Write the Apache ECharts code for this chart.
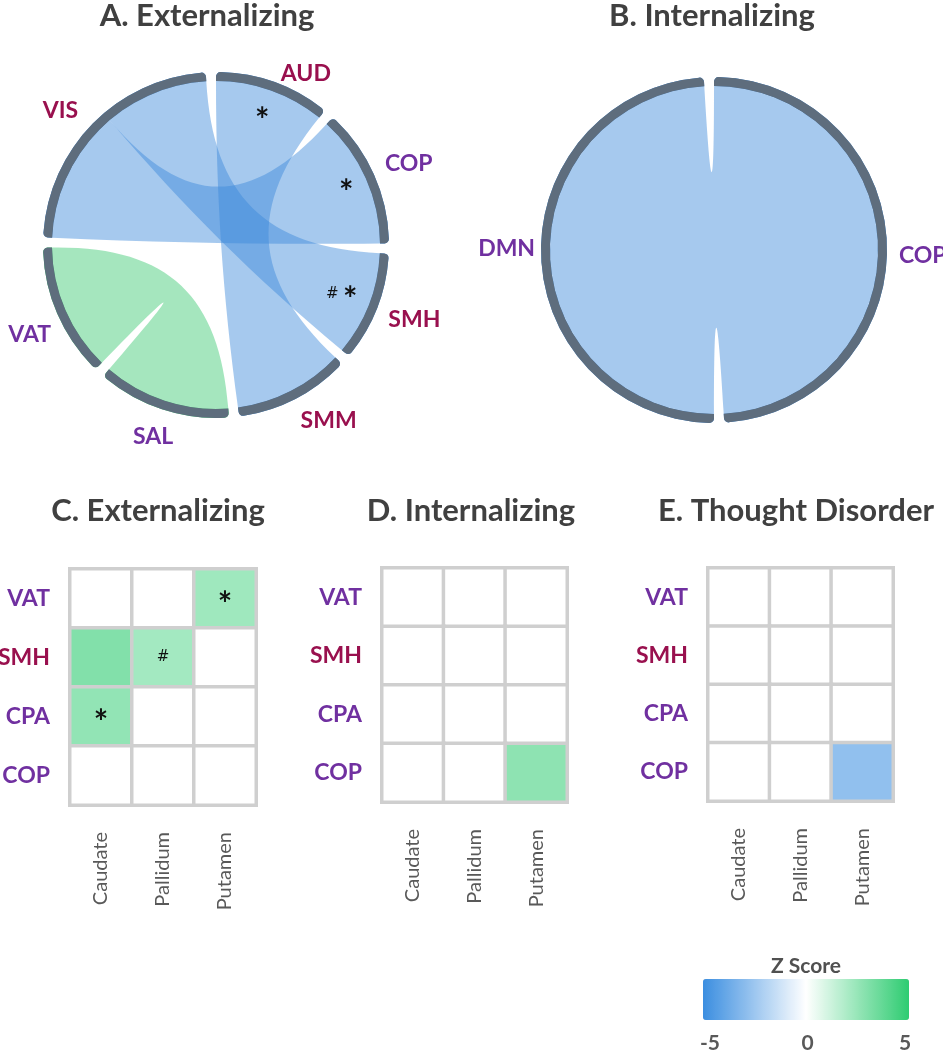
<!DOCTYPE html>
<html>
<head>
<meta charset="utf-8">
<script src="https://cdn.jsdelivr.net/npm/echarts@6/dist/echarts.min.js"></script>
<style>
  html, body { margin: 0; padding: 0; background: #fff; }
  #chart { width: 943px; height: 1050px; }
</style>
</head>
<body>
<div id="chart"></div>
<script>
// chord A: externalizing (nodes clockwise from the top)
const extNodes = ['AUD', 'COP', 'SMH', 'SMM', 'SAL', 'VAT', 'VIS'];
const extLinks = [['VIS', 'COP', 47], ['VIS', 'SMH', 37], ['AUD', 'SMM', 39], ['VAT', 'SAL', 45]];
const extPositive = ['VAT', 'SAL'];   // nodes whose links are positive (green)
// chord B: internalizing
const intNodes = ['COP', 'DMN'];
const intLinks = [['COP', 'DMN', 50]];
const intPositive = [];

// heatmaps: rows = networks, cols = striatum
const networks = ['VAT', 'SMH', 'CPA', 'COP'];
const striatum = ['Caudate', 'Pallidum', 'Putamen'];
const zExt = [[0, 0, 2.3], [3.0, 2.2, 0], [2.6, 0, 0], [0, 0, 0]];
const markExt = [['', '', '*'], ['', '#', ''], ['*', '', ''], ['', '', '']];
const zInt = [[0, 0, 0], [0, 0, 0], [0, 0, 0], [0, 0, 2.7]];
const zTd = [[0, 0, 0], [0, 0, 0], [0, 0, 0], [0, 0, -2.8]];
const noMarks = [['', '', ''], ['', '', ''], ['', '', ''], ['', '', '']];
const zTicks = [-5, 0, 5];

const purple = '#7030A0', crimson = '#99104E';
const netColor = {
  VAT: purple, SAL: purple, COP: purple, CPA: purple, DMN: purple,
  SMH: crimson, SMM: crimson, AUD: crimson, VIS: crimson
};
// label nudges as padding [top, right, bottom, left]
const labelPad = {
  A: { AUD: [0, 0, -14, 3], VIS: [0, 6, -7, 0], COP: [0, 0, -6, 0], SMH: [-4, 0, 0, 0],
       SAL: [4, -15, 0, 0], VAT: [5, -5, 0, 0] },
  B: { COP: [0, 0, -23, 0], DMN: [-18, -6, 0, 0] }
};
const font = 'Lato';
const negColor = 'rgb(57,135,217)', posColor = 'rgb(55,200,111)';

function chordBase(center) {
  return {
    type: 'chord', center: center, radius: [164, 173],
    startAngle: 90, clockwise: true, padAngle: 3.4, minAngle: 0,
    emphasis: { disabled: true }, silent: true
  };
}
// ribbons: coloured from their source node
function chordRibbons(nodes, links, positive, center) {
  return Object.assign(chordBase(center), {
    lineStyle: { color: 'source', opacity: 0.45 },
    label: { show: false },
    data: nodes.map(n => ({ name: n, itemStyle: { color: positive.includes(n) ? posColor : negColor } })),
    links: links.map(l => ({ source: l[0], target: l[1], value: l[2] }))
  });
}
// node ring and names on top
function chordRing(nodes, links, center, pads) {
  return Object.assign(chordBase(center), {
    itemStyle: { color: '#5E6D7D', borderWidth: 0 },
    lineStyle: { color: 'source', opacity: 0 },
    label: {
      show: true, position: 'outside', distance: 12,
      fontFamily: font, fontWeight: 'bold', fontSize: 23
    },
    data: nodes.map(n => ({ name: n, label: { color: netColor[n], padding: pads[n] || 0 } })),
    links: links.map(l => ({ source: l[0], target: l[1], value: l[2] }))
  });
}

function heat(z, marks, gi) {
  const data = [];
  z.forEach((row, r) => row.forEach((v, c) => data.push([c, r, v, marks[r][c]])));
  return {
    type: 'heatmap', xAxisIndex: gi, yAxisIndex: gi, data: data,
    itemStyle: { borderColor: '#CFCFCF', borderWidth: 3.5 },
    emphasis: { disabled: true },
    label: {
      show: true,
      formatter: p => p.data[3] === '*' ? '{s|*}' : (p.data[3] === '#' ? '{h|#}' : ''),
      rich: {
        s: { fontFamily: font, fontWeight: 'bold', fontSize: 34, color: '#111', padding: [14, 0, 0, 0] },
        h: { fontFamily: 'DejaVu Sans', fontSize: 15, color: '#111' }
      }
    }
  };
}

const grids = [
  { left: 70, top: 569, width: 186, height: 236 },
  { left: 382, top: 568, width: 185, height: 234 },
  { left: 708, top: 568, width: 185, height: 233 },
  { left: 710, top: 1024, width: 195, height: 1 }
].map(g => Object.assign(g, { outerBoundsMode: 'none', containLabel: false }));

const xAxes = [0, 1, 2].map(i => ({
  type: 'category', gridIndex: i, data: striatum,
  axisLine: { show: false }, axisTick: { show: false },
  axisLabel: { rotate: 90, margin: 27, fontFamily: font, fontSize: 20, color: '#595959' }
}));
xAxes.push({
  type: 'value', gridIndex: 3, min: -5, max: 5, interval: 5,
  axisLine: { show: false }, axisTick: { show: false }, splitLine: { show: false },
  axisLabel: { margin: 8, fontFamily: font, fontSize: 21, color: '#595959', fontWeight: 'bold',
    formatter: v => zTicks.includes(v) ? String(v) : '' }
});
const yAxes = [0, 1, 2].map(i => ({
  type: 'category', gridIndex: i, data: networks, inverse: true,
  axisLine: { show: false }, axisTick: { show: false },
  axisLabel: { margin: 20, fontFamily: font, fontWeight: 'bold', fontSize: 23,
    color: v => netColor[v] }
}));
yAxes.push({ type: 'value', gridIndex: 3, show: false });

const titleStyle = { fontFamily: font, fontWeight: 'bold', fontSize: 31, color: '#404040' };
const titles = [
  ['A. Externalizing', 207, 0], ['B. Internalizing', 712, 0],
  ['C. Externalizing', 158, 495], ['D. Internalizing', 471, 495], ['E. Thought Disorder', 796, 495]
].map(t => ({ text: t[0], left: t[1], top: t[2], textAlign: 'center', padding: 0, textStyle: titleStyle }));
titles.push({ text: 'Z Score', left: 806, top: 956, textAlign: 'center', padding: 0,
  textStyle: { fontFamily: font, fontWeight: 'bold', fontSize: 21, color: '#505050' } });

const mark = (x, y, t, s, f) => ({ type: 'text', left: x, top: y, z: 10,
  style: { text: t, fontFamily: f || font, fontWeight: f ? 'normal' : 'bold', fontSize: s, fill: '#111' } });

const chart = echarts.init(document.getElementById('chart'));
chart.setOption({
  animation: false,
  backgroundColor: '#fff',
  title: titles,
  grid: grids,
  xAxis: xAxes,
  yAxis: yAxes,
  visualMap: {
    type: 'continuous', min: -5, max: 5, dimension: 2, seriesIndex: [0, 1, 2],
    orient: 'horizontal', left: 703, top: 979, itemWidth: 41, itemHeight: 206,
    padding: 0, calculable: false, hoverLink: false,
    inRange: { color: ['#3B8EE0', '#FFFFFF', '#2ECC71'] }
  },
  graphic: [
    mark(255, 104, '*', 34), mark(339, 176, '*', 34),
    mark(343, 283, '*', 34), mark(326, 287, '#', 15, 'DejaVu Sans')
  ],
  series: [
    heat(zExt, markExt, 0),
    heat(zInt, noMarks, 1),
    heat(zTd, noMarks, 2),
    chordRibbons(extNodes, extLinks, extPositive, [216, 245]),
    chordRing(extNodes, extLinks, [216, 245], labelPad.A),
    chordRibbons(intNodes, intLinks, intPositive, [714, 250]),
    chordRing(intNodes, intLinks, [714, 250], labelPad.B)
  ]
});
</script>
</body>
</html>
